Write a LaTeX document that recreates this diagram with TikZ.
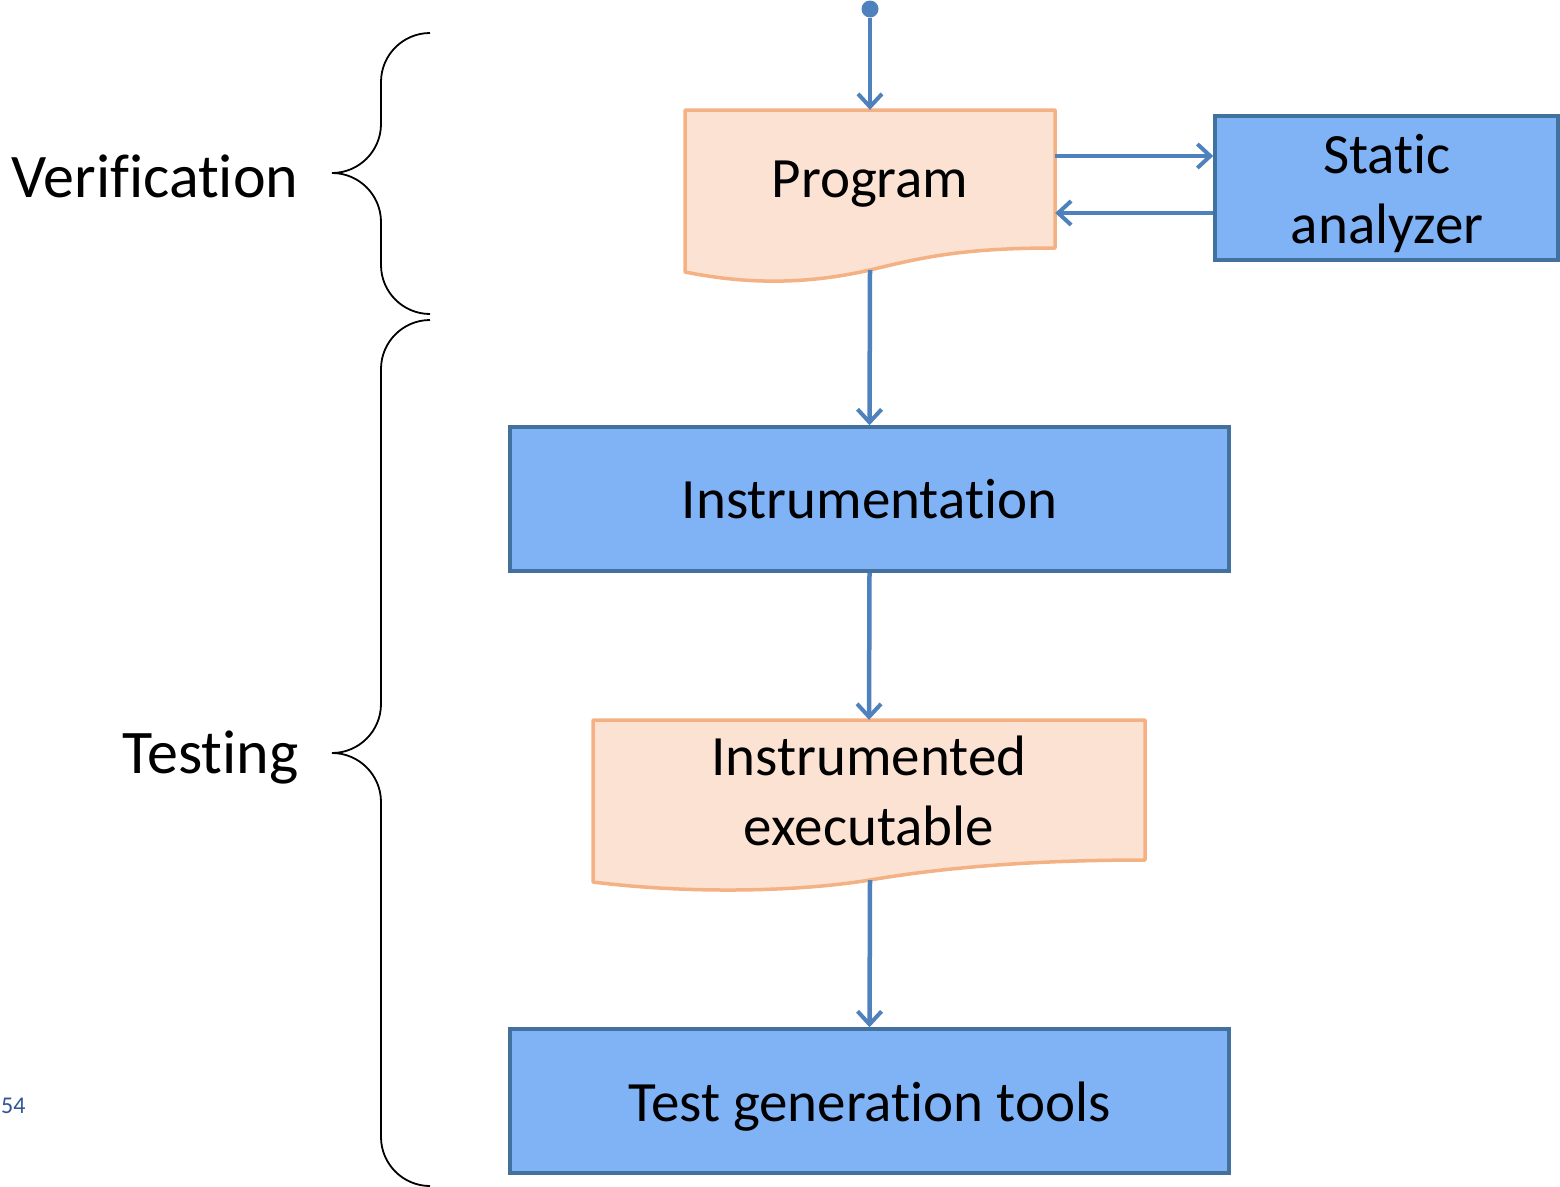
\documentclass[tikz,border=0pt]{standalone}
\usepackage{fontspec}
\setmainfont{Carlito}[Ligatures={NoCommon,NoRare,NoDiscretionary}]
\usetikzlibrary{arrows.meta}
\definecolor{lineblue}{RGB}{79,129,189}
\definecolor{boxblue}{RGB}{128,178,246}
\definecolor{boxedge}{RGB}{65,113,156}
\definecolor{docfill}{RGB}{251,226,211}
\definecolor{docedge}{RGB}{244,177,131}
\definecolor{pagenum}{RGB}{47,85,151}
\tikzset{
  conn/.style={draw=lineblue, line width=4.5pt, -{Straight Barb[length=13pt,width=24pt,line width=4pt]}},
  procbox/.style={draw=boxedge, fill=boxblue, line width=3.5pt, align=center, inner sep=0pt},
  docshape/.style={draw=docedge, fill=docfill, line width=3.5pt, line join=round},
  anchorbox/.style={inner sep=0pt},
  bigtext/.style={font=\fontsize{57}{70}\selectfont, align=center, inner sep=0pt},
  brace/.style={draw=black, line width=1.8pt},
  sidetext/.style={font=\fontsize{62}{74}\selectfont, anchor=east},
}
\begin{document}
\begin{tikzpicture}[x=1pt,y=-1pt]
\useasboundingbox (0,0) rectangle (1560,1186);

% document shapes
\draw[docshape] (685,110) -- (1055,110) -- (1055,248) .. controls (960,248) and (920,258) .. (870,270) .. controls (800,286) and (740,283) .. (685,272) -- cycle;
\draw[docshape] (593,720) -- (1145,720) -- (1145,860) .. controls (1030,860) and (940,868) .. (870,880) .. controls (790,893) and (680,893) .. (593,882) -- cycle;

\node[anchorbox, minimum width=370pt, minimum height=138pt] (prog) at (870,179) {};
\node[bigtext] (progtext) at (870,184) {Program};
\node[anchorbox, minimum width=552pt, minimum height=140pt] (ie) at (869,790) {};
\node[bigtext] (ietext) at (869,791) {Instrumented\\executable};
\coordinate (progb) at (870,270);
\coordinate (ieb) at (870,880);

\node[procbox, minimum width=343pt, minimum height=144pt] (sa) at (1386.5,188) {};
\node[bigtext] (satext) at (1387,193) {Static\\analyzer};
\node[procbox, bigtext, minimum width=719pt, minimum height=144pt] (instr) at (869.5,499) {Instrumentation};
\node[procbox, minimum width=719pt, minimum height=144pt] (tgt) at (869.5,1101) {};
\node[bigtext] (tgttext) at (869.5,1107) {Test generation tools};

% start dot
\node[circle, fill=lineblue, minimum size=17pt, inner sep=0pt] (start) at (870,9) {};

\draw[conn] (start) -- (prog.north);
\draw[conn] ([yshift=23pt]prog.east) -- ([yshift=23pt]prog.east -| sa.west);
\draw[conn] ([yshift=-34pt]prog.east -| sa.west) -- ([yshift=-34pt]prog.east);
\draw[conn] (progb) -- (instr.north);
\draw[conn] (instr.south) -- (ie.north);
\draw[conn] (ieb) -- (tgt.north);

% braces
\draw[brace] (430,33) .. controls (403,33) and (381,55) .. (381,82) -- (381,124) .. controls (381,151) and (359,173) .. (332,173)
  .. controls (359,173) and (381,195) .. (381,222) -- (381,265) .. controls (381,292) and (403,314) .. (430,314);
\draw[brace] (430,320) .. controls (403,320) and (381,342) .. (381,369) -- (381,704) .. controls (381,731) and (359,753) .. (332,753)
  .. controls (359,753) and (381,775) .. (381,802) -- (381,1137) .. controls (381,1164) and (403,1186) .. (430,1186);

\node[sidetext] (ver) at (302,176) {Verification};
\node[sidetext] (test) at (302,757) {Testing};
\node[anchor=west, text=pagenum, font=\fontsize{24}{28}\selectfont, inner sep=0pt] (pg) at (1,1106) {54};
\end{tikzpicture}
\end{document}
